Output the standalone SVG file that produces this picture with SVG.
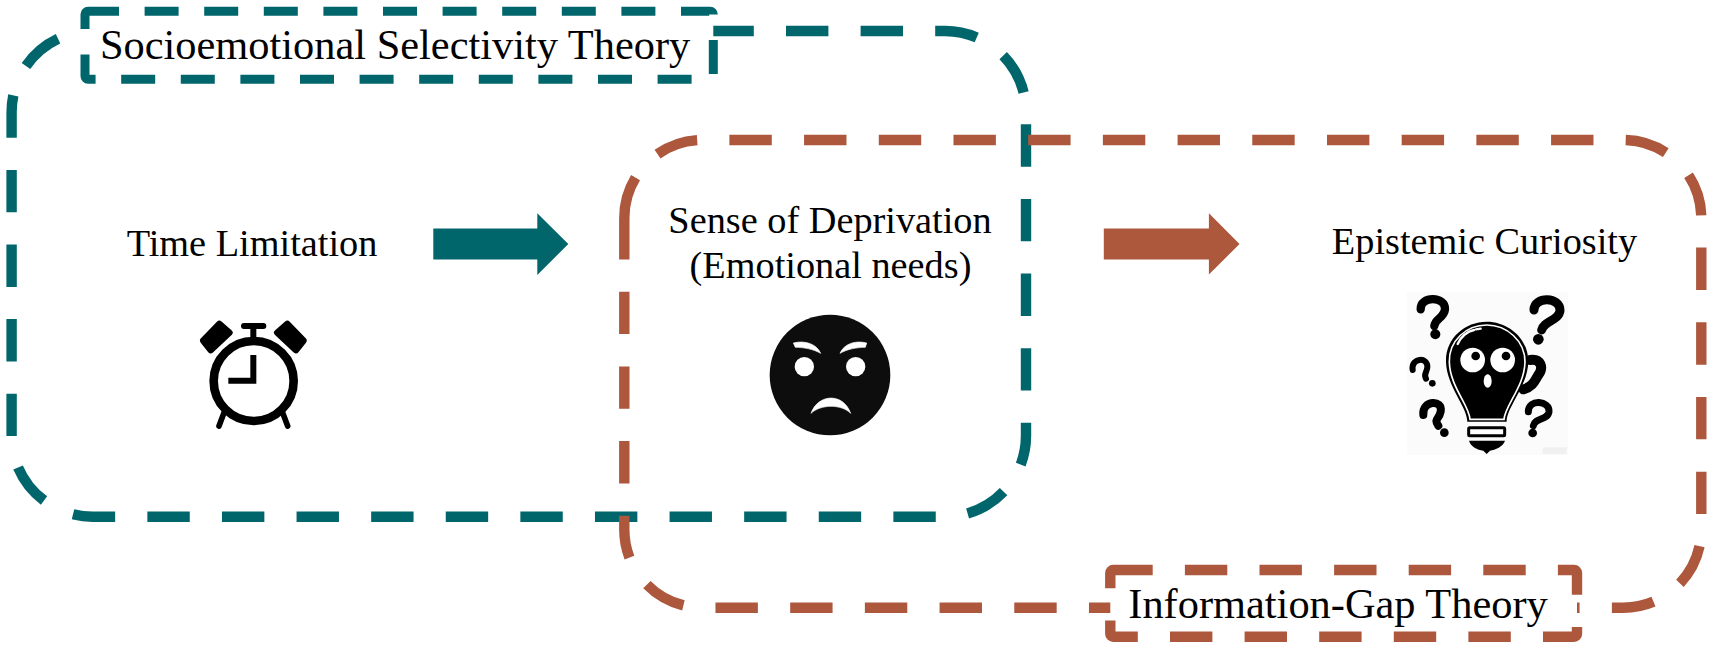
<svg xmlns="http://www.w3.org/2000/svg" width="1713" height="649" viewBox="0 0 1713 649">
<style>
.frame{fill:none;stroke-width:10.4;stroke-dasharray:42.4 32.2}
.teal{stroke:#01666c}
.rust{stroke:#ad573d}
.long{stroke-dasharray:42.4 32.3}
.tag{fill:#fff}
.tagt{stroke-width:9;stroke-dasharray:34 25.6;stroke-dashoffset:3}
.tagr{stroke-width:10.4;stroke-dasharray:42.4 32.2;stroke-dashoffset:3}
text{font-family:"Liberation Serif","Times New Roman",serif;fill:#000}
.main{font-size:38.3px;text-anchor:middle}
.lab{font-size:42.4px}
.q{fill:none;stroke:#000;stroke-linecap:round}
</style>
<rect width="1713" height="649" fill="#fff"/>
<g id="frame-socioemotional"><path class="frame teal" d="M711.4,31H945A81,81 0 0 1 1026,112V435.7A81,81 0 0 1 945,516.7H92.6A81,81 0 0 1 11.6,435.7V112A81,81 0 0 1 92.6,31H120"/></g>
<g id="frame-information-gap"><path class="frame rust long" d="M624.3,218A78,78 0 0 1 702.3,140H1623.3A78,78 0 0 1 1701.3,218V529.7A78,78 0 0 1 1623.3,607.7H702.3A78,78 0 0 1 624.3,529.7V218"/></g>
<g id="label-socioemotional"><rect class="tag teal tagt" x="85" y="11.3" width="628.3" height="68" rx="3"/><text class="lab" x="100" y="59.3">Socioemotional Selectivity Theory</text></g>
<g id="label-information-gap"><rect class="tag rust tagr" x="1110.3" y="570" width="466.7" height="66.7" rx="3"/><text class="lab" x="1128.3" y="618.3">Information-Gap Theory</text></g>
<g id="connectors">
<polygon fill="#01666c" points="433.3,228.5 537.3,228.5 537.3,213.3 568.3,244 537.3,275 537.3,259.5 433.3,259.5"/>
<polygon fill="#ad573d" points="1103.8,228.5 1208.9,228.5 1208.9,213.3 1239.5,244 1208.9,274.5 1208.9,259.5 1103.8,259.5"/>
</g>
<g id="node-time-limitation">
<text class="main" x="252" y="256">Time Limitation</text>
<g transform="translate(170,300) scale(.33333)">
<circle cx="251" cy="243" r="120" fill="none" stroke="#000" stroke-width="26"/>
<path d="M250,165V242H175" fill="none" stroke="#000" stroke-width="18"/>
<path d="M250,80V115M222,78H280" fill="none" stroke="#000" stroke-width="18" stroke-linecap="round"/>
<path d="M148,72L178,98L122,150L100,122ZM352,72L322,98L378,150L400,122Z" fill="#000" stroke="#000" stroke-width="20" stroke-linejoin="round"/>
<path d="M162,338L147,378M338,338L353,378" fill="none" stroke="#000" stroke-width="17" stroke-linecap="round"/>
</g>
</g>
<g id="node-sense-of-deprivation">
<text class="main" x="830" y="233">Sense of Deprivation</text>
<text class="main" x="830.5" y="278">(Emotional needs)</text>
<g transform="translate(750,310) scale(.33333)">
<circle cx="240" cy="195" r="181" fill="#0d0d0d"/>
<circle cx="163" cy="170" r="29" fill="#fff"/>
<circle cx="317" cy="170" r="29" fill="#fff"/>
<path d="M130,99C165,90 200,102 212,130C190,117 160,112 136,112Z M350,99C315,90 282,102 270,130C292,117 322,112 346,112Z M183,310C205,250 280,248 302,310C275,282 212,282 183,310Z" fill="#fff" stroke="#fff" stroke-width="2" stroke-linejoin="round"/>
</g>
</g>
<g id="node-epistemic-curiosity">
<text class="main" x="1484.5" y="254">Epistemic Curiosity</text>
<g transform="translate(1390,280) scale(.33333)">
<rect x="50" y="37" width="485" height="488" fill="#fbfbfb"/>
<rect x="458" y="502" width="72" height="20" fill="#f0f0f0"/>
<path class="q" stroke-width="25" d="M92,88C90,46 168,48 165,88C162,115 135,115 133,138"/>
<circle cx="136" cy="163" r="15"/>
<path class="q" stroke-width="27" d="M432,90C432,48 512,50 510,92C507,122 462,122 455,150"/>
<circle cx="445" cy="178" r="16"/>
<path class="q" stroke-width="18" d="M68,270C62,232 115,230 112,262C110,280 100,282 108,296"/>
<circle cx="127" cy="310" r="10"/>
<path class="q" stroke-width="24" d="M100,405C95,360 160,358 152,395C147,420 130,415 145,437"/>
<circle cx="163" cy="458" r="13"/>
<path class="q" stroke-width="21" d="M415,395C415,355 480,362 477,395C473,422 435,412 430,437"/>
<circle cx="428" cy="459" r="13"/>
<path class="q" stroke-width="30" d="M420,240C452,235 462,262 445,285C435,300 430,320 400,328"/>
<path d="M232,425C232,380 170,320 168,245C166,175 225,125 290,125C355,125 415,175 415,245C413,320 350,380 350,425Z" fill="#000"/>
<path d="M240,418C238,376 180,320 178,246C176,182 230,135 290,135C350,135 405,182 405,246C403,320 345,376 342,418Z" fill="#000" stroke="#fff" stroke-width="5"/>
<path d="M203,192C212,170 232,154 252,150M258,148L272,146" fill="none" stroke="#fff" stroke-width="7" stroke-linecap="round"/>
<circle cx="248" cy="240" r="37" fill="#fff"/><circle cx="338" cy="240" r="37" fill="#fff"/>
<circle cx="257" cy="228" r="13"/><circle cx="348" cy="228" r="13"/>
<ellipse cx="293" cy="303" rx="12" ry="20" fill="#fff"/>
<rect x="236" y="443" width="108" height="24" rx="3" fill="#fff" stroke="#000" stroke-width="9"/>
<path d="M237,482H345C340,500 315,510 300,512L290,522L280,512C262,510 242,500 237,482Z"/>
</g>
</g>
</svg>
